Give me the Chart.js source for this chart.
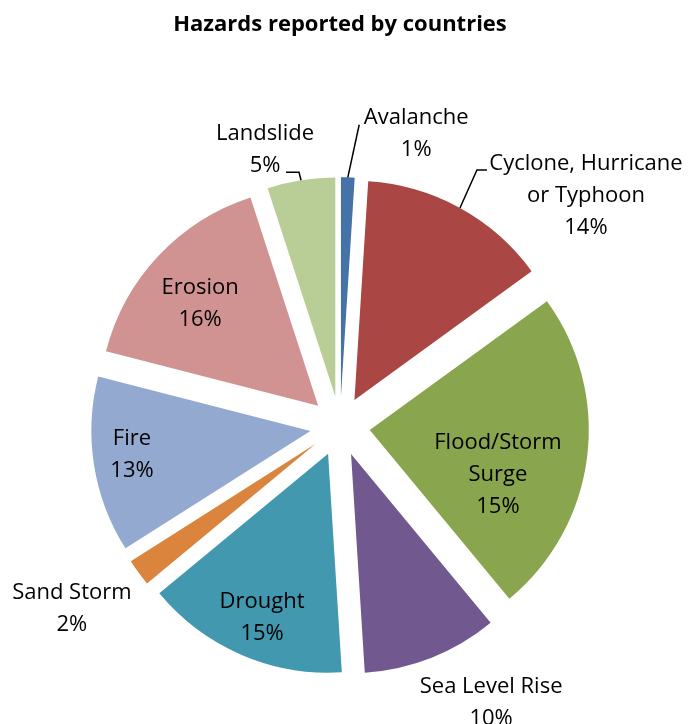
<!DOCTYPE html>
<html>
<head>
<meta charset="utf-8">
<script src="https://cdn.jsdelivr.net/npm/chart.js@4.4.0/dist/chart.umd.min.js"></script>
<style>
html,body{margin:0;padding:0;background:#ffffff;}
#wrap{position:relative;width:691px;height:724px;}
</style>
</head>
<body>
<div id="wrap"><canvas id="c"></canvas></div>
<script>
// ---- data ----
const categories = ['Avalanche', 'Cyclone, Hurricane or Typhoon', 'Flood/Storm Surge', 'Sea Level Rise', 'Drought', 'Sand Storm', 'Fire', 'Erosion', 'Landslide'];
const nameLines = [['Avalanche'], ['Cyclone, Hurricane', 'or Typhoon'], ['Flood/Storm', 'Surge'], ['Sea Level Rise'], ['Drought'], ['Sand Storm'], ['Fire'], ['Erosion'], ['Landslide']];
const values = [1, 14, 24, 10, 15, 2, 13, 16, 5];           // slice sizes
const percentLabels = ['1%', '14%', '15%', '10%', '15%', '2%', '13%', '16%', '5%']; // printed labels
const colors = ['#4572A7', '#AA4643', '#89A54E', '#71588F', '#4198AF', '#DB843D', '#93A9CF', '#D19392', '#B9CD96'];

// ---- label layout (polar: angle clockwise from top in degrees, distance in radii) ----
const labelLayout = [
  {a: 14.6, k: 1.380, leader: {dx: -57, dy: -9, tail: 0}},
  {a: 46.9, k: 1.538, leader: {dx: -99, dy: -26, tail: -10}},
  {a: 107.2, k: 0.755},
  {a: 151.3, k: 1.437},
  {a: 202.1, k: 0.946},
  {a: 235.7, k: 1.482},
  {a: 262.1, k: 0.959},
  {a: 311.2, k: 0.849},
  {a: 344.8, k: 1.306, leader: {dx: 21, dy: 22, tail: 13}}
];

// Exploded slices: plain translation, no radius/angle shrink for small slices
const Arc = Chart.ArcElement || (Chart.elements && Chart.elements.ArcElement);
const origDraw = Arc.prototype.draw;
Arc.prototype.draw = function(ctx) {
  const c = this.circumference;
  if (c > 0 && c < 2 * Math.PI) {
    this.circumference = Math.PI / 2;
    origDraw.call(this, ctx);
    this.circumference = c;
  } else {
    origDraw.call(this, ctx);
  }
};

const labelPlugin = {
  id: 'sliceLabels',
  afterDatasetsDraw(chart) {
    const ctx = chart.ctx;
    const meta = chart.getDatasetMeta(0);
    ctx.save();
    ctx.font = '22px "Open Sans"';
    ctx.fillStyle = '#000000';
    ctx.textAlign = 'center';
    ctx.textBaseline = 'middle';
    const lh = 32;
    meta.data.forEach((arc, i) => {
      const p = arc.getProps(['x', 'y', 'startAngle', 'endAngle', 'outerRadius'], true);
      const R = p.outerRadius;
      const L = labelLayout[i];
      const ang = (L.a - 90) * Math.PI / 180;
      const cx = p.x + Math.cos(ang) * L.k * R;
      const cy = p.y + Math.sin(ang) * L.k * R;
      const lines = nameLines[i].concat([percentLabels[i]]);
      lines.forEach((t, j) => {
        ctx.fillText(t, cx, cy + (j - (lines.length - 1) / 2) * lh);
      });
      if (L.leader) {
        const mid = (p.startAngle + p.endAngle) / 2;
        const off = (arc.options.offset || 0) / 4;
        const ex = p.x + Math.cos(mid) * (off + R);
        const ey = p.y + Math.sin(mid) * (off + R);
        const sx = cx + L.leader.dx, sy = cy + L.leader.dy;
        ctx.beginPath();
        ctx.strokeStyle = '#000000';
        ctx.lineWidth = 1.5;
        ctx.moveTo(sx, sy);
        if (L.leader.tail) ctx.lineTo(sx + L.leader.tail, sy);
        ctx.lineTo(ex, ey);
        ctx.stroke();
      }
    });
    ctx.restore();
  }
};

new Chart(document.getElementById('c'), {
  type: 'pie',
  data: {
    labels: categories,
    datasets: [{
      data: values,
      backgroundColor: colors,
      borderWidth: 0,
      offset: 120
    }]
  },
  options: {
    responsive: true,
    maintainAspectRatio: false,
    animation: false,
    events: [],
    radius: 219,
    layout: {padding: {left: 0, right: 11, top: 0, bottom: 0}},
    plugins: {
      legend: {display: false},
      tooltip: {enabled: false},
      title: {
        display: true,
        text: 'Hazards reported by countries',
        color: '#000000',
        font: {family: '"Open Sans"', size: 22, weight: 'bold', lineHeight: 1.2},
        padding: {top: 12, bottom: 90}
      }
    }
  },
  plugins: [labelPlugin]
});
</script>
</body>
</html>
